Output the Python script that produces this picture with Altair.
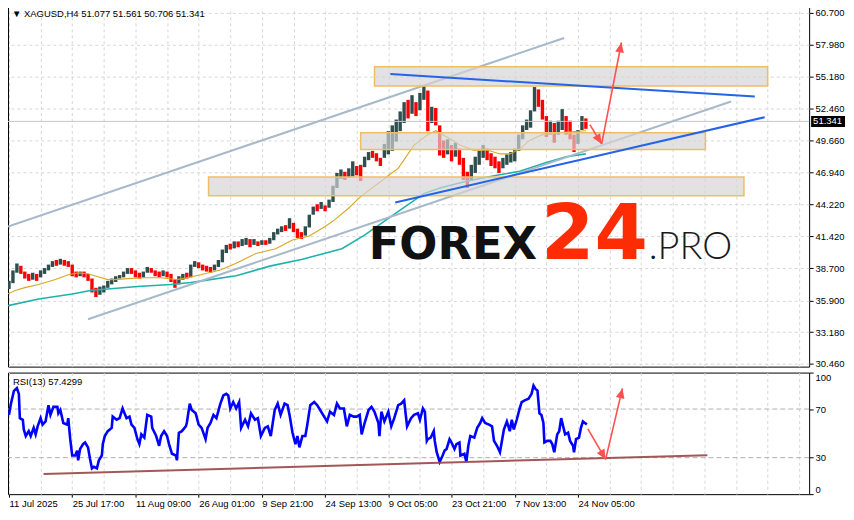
import json
import altair as alt
import pandas as pd

# ---------------- data ----------------
symbol = "XAGUSD,H4"
last_ohlc = ["51.077", "51.561", "50.706", "51.341"]
last_price = 51.341
rsi_name = "RSI(13)"
rsi_last = "57.4299"

# H4 bar position on the time axis (source chart: one pixel per bar)
candle_t = list(range(3, 588, 4))
price_low = [
    36.9, 37.4, 38.3, 38.2, 37.8, 37.6, 37.7, 37.6, 37.9, 38.2,
    38.5, 38.8, 38.9, 39.0, 38.9, 38.8, 38.0, 37.9, 38.0, 37.9,
    37.6, 36.6, 36.2, 36.4, 36.6, 37.0, 37.3, 37.5, 37.8, 37.9,
    38.2, 38.2, 37.9, 37.8, 37.9, 38.3, 38.3, 38.0, 37.9, 38.0,
    37.9, 37.5, 37.0, 37.3, 37.7, 37.8, 37.9, 38.8, 38.7, 38.5,
    38.4, 38.3, 38.5, 38.8, 39.2, 40.0, 40.3, 40.4, 40.5, 40.6,
    40.7, 40.5, 40.7, 40.6, 40.7, 40.7, 40.8, 41.1, 41.6, 41.8,
    41.9, 42.1, 41.8, 41.3, 41.2, 41.5, 42.2, 43.3, 43.6, 43.8,
    43.6, 43.9, 44.4, 45.6, 46.4, 46.3, 46.5, 46.6, 46.7, 46.2,
    47.4, 48.0, 48.2, 47.9, 47.5, 48.2, 48.5, 48.8, 49.6, 50.5,
    51.2, 51.6, 52.0, 51.8, 52.3, 53.2, 50.5, 51.2, 51.0, 48.4,
    48.2, 48.5, 47.9, 48.3, 47.6, 46.3, 45.6, 46.2, 46.9, 47.6,
    48.2, 48.0, 47.5, 47.3, 46.9, 47.3, 47.6, 47.8, 47.9, 48.8,
    49.8, 50.6, 50.8, 52.2, 52.6, 51.5, 50.0, 50.2, 49.5, 50.2,
    50.6, 50.2, 49.8, 48.7, 49.4, 50.6, 50.7,
]
price_high = [
    37.6, 38.5, 39.1, 38.9, 38.4, 38.2, 38.3, 38.2, 38.5, 38.7,
    39.0, 39.3, 39.4, 39.5, 39.4, 39.3, 39.0, 38.4, 38.4, 38.4,
    38.2, 37.8, 37.0, 37.1, 37.2, 37.6, 37.8, 38.0, 38.1, 38.4,
    38.7, 38.7, 38.5, 38.3, 38.4, 38.8, 38.7, 38.5, 38.4, 38.5,
    38.4, 38.2, 37.7, 38.0, 38.2, 38.3, 39.0, 39.3, 39.2, 39.0,
    38.9, 38.8, 39.0, 39.4, 40.3, 40.7, 40.8, 41.0, 41.0, 41.2,
    41.3, 41.2, 41.2, 41.0, 41.1, 41.1, 41.3, 41.8, 42.1, 42.3,
    42.4, 43.0, 42.6, 42.1, 41.8, 42.3, 43.3, 44.0, 44.2, 44.4,
    44.1, 44.6, 45.8, 46.9, 47.2, 47.0, 47.3, 47.9, 47.5, 47.6,
    48.3, 48.7, 48.8, 48.6, 48.2, 49.4, 50.5, 51.0, 51.5, 52.2,
    53.0, 53.2, 53.6, 53.0, 53.8, 54.4, 54.0, 52.6, 52.5, 51.0,
    49.7, 49.8, 49.3, 49.5, 49.0, 48.2, 47.0, 47.6, 48.3, 48.8,
    49.3, 49.0, 48.6, 48.3, 47.9, 48.2, 48.5, 48.7, 49.0, 50.2,
    51.0, 51.5, 52.3, 54.3, 54.1, 53.2, 51.8, 51.4, 51.2, 51.4,
    52.4, 51.8, 51.4, 50.2, 50.6, 51.8, 51.6,
]
candle_dir = list(
    "uuuddduduu" "uududddd" "ud" "ddduuuuuuu" "uddduudddu" "ddduuduudd"
    "dduuuududu" "udududuuuu" "duddduuudu" "duuuuduudd" "uuddduuuuu"
    "ududuududd" "dududdduuu" "udddduuuuu" "uuuudddudu" "uddduud"
)

ma_fast_t = [2, 10, 20, 33, 50, 63, 73, 83, 93, 103, 110, 123, 140, 157, 173, 183, 197,
             217, 233, 253, 273, 290, 307, 323, 333, 347, 357, 367, 380, 390, 397, 413,
             427, 435, 447, 460, 473, 487, 500, 510, 520, 530, 543, 560, 573, 587]
ma_fast_v = [36.48, 36.79, 37.04, 37.29, 37.71, 38.12, 38.29, 38.21, 37.96, 37.71, 37.71,
             37.79, 37.87, 37.87, 37.71, 37.87, 38.12, 38.54, 39.12, 39.96, 40.37, 41.12,
             41.46, 42.29, 42.88, 43.88, 44.71, 45.37, 46.20, 46.87, 47.29, 49.29, 50.20,
             50.54, 49.96, 49.29, 48.87, 48.87, 48.54, 48.54, 48.95, 49.70, 50.20, 50.37,
             50.45, 50.54]
ma_slow_t = [2, 33, 67, 87, 100, 133, 167, 187, 200, 233, 267, 300, 340, 363, 395, 423,
             440, 467, 497, 520, 547, 567, 587]
ma_slow_v = [35.46, 36.04, 36.46, 36.79, 36.88, 37.12, 37.29, 37.46, 37.62, 38.04, 38.87,
             39.46, 40.37, 41.54, 43.46, 45.12, 45.62, 46.20, 46.70, 47.04, 47.79, 48.29,
             48.54]

rsi_t = [3, 5, 8, 11, 13, 14, 17, 18, 20, 23, 25, 28, 30, 32, 35, 37, 40, 43, 45, 48, 52,
         53, 55, 58, 62, 63, 65, 67, 70, 72, 73, 75, 78, 80, 83, 85, 87, 89, 92, 94, 97,
         98, 100, 103, 107, 108, 112, 115, 118, 122, 125, 127, 130, 133, 135, 137, 140,
         143, 147, 148, 152, 155, 157, 160, 163, 165, 168, 172, 173, 175, 178, 182, 183,
         186, 188, 192, 195, 198, 202, 204, 207, 210, 213, 217, 220, 223, 225, 227, 230,
         233, 236, 238, 242, 245, 248, 252, 255, 258, 262, 265, 268, 272, 275, 278, 282,
         285, 287, 290, 293, 295, 297, 300, 303, 305, 308, 312, 315, 318, 322, 325, 328,
         332, 335, 338, 342, 345, 348, 352, 355, 358, 360, 363, 367, 370, 373, 377, 378,
         380, 383, 387, 390, 393, 397, 400, 403, 406, 410, 413, 417, 419, 422, 424, 426,
         427, 430, 433, 434, 436, 439, 442, 444, 446, 449, 451, 454, 456, 459, 460, 464,
         466, 468, 470, 474, 477, 480, 482, 485, 489, 492, 494, 497, 500, 502, 504, 507,
         510, 512, 514, 517, 520, 522, 525, 529, 532, 534, 536, 538, 540, 542, 544, 545,
         548, 551, 553, 555, 558, 560, 562, 564, 566, 569, 571, 574, 575, 577, 580, 582,
         584, 586, 588]
rsi_v = [65.2, 74.5, 85.0, 87.3, 82.5, 62.5, 61.2, 53.2, 47.8, 51.8, 47.8, 54.5, 49.2,
         55.8, 62.5, 57.2, 59.8, 73.2, 65.2, 71.8, 71.8, 66.5, 69.2, 58.5, 57.2, 62.5,
         45.2, 31.8, 31.8, 35.8, 27.8, 37.2, 41.2, 42.5, 38.5, 29.2, 21.2, 22.5, 21.2,
         27.8, 31.8, 41.2, 47.8, 51.8, 54.5, 63.8, 61.2, 62.5, 70.5, 62.5, 63.8, 57.2,
         54.5, 45.2, 41.2, 49.2, 46.5, 65.2, 63.8, 54.5, 47.8, 39.8, 47.8, 51.8, 47.8,
         41.2, 33.2, 31.8, 27.8, 50.5, 51.8, 55.8, 58.5, 74.5, 69.2, 66.5, 57.2, 54.5,
         45.2, 54.5, 58.5, 65.2, 62.5, 74.5, 81.2, 82.5, 81.2, 70.5, 75.8, 70.5, 75.8,
         54.5, 61.2, 55.8, 66.5, 61.2, 62.5, 47.8, 54.5, 55.8, 47.8, 69.2, 74.5, 65.2,
         74.5, 73.2, 65.2, 50.5, 41.2, 47.8, 38.5, 47.8, 47.8, 57.2, 73.2, 75.8, 73.2,
         69.2, 63.8, 59.8, 67.8, 65.2, 74.5, 70.5, 70.5, 55.8, 65.2, 63.8, 63.8, 65.2,
         49.2, 58.5, 69.2, 71.8, 67.8, 58.5, 47.8, 67.8, 59.8, 67.8, 55.8, 62.5, 73.2,
         74.5, 77.2, 55.8, 62.5, 65.2, 66.5, 61.2, 70.5, 67.8, 43.8,
         45.2, 46.5, 51.8, 43.8, 34.5, 26.5, 31.8, 35.8, 37.2, 45.2, 42.5, 37.2, 41.2,
         42.5, 31.8, 33.2, 26.5, 39.8, 47.8, 46.5, 54.5, 58.5, 62.5, 58.5, 57.2, 55.8,
         43.8, 39.8, 34.5, 43.8, 53.2, 59.8, 51.8, 61.2, 53.2, 61.2, 70.5, 75.8, 77.2,
         78.5, 82.5, 89.2, 86.5, 85.2, 66.5, 65.2, 58.5, 42.5, 43.8, 43.8, 41.2, 34.5,
         49.2, 51.8, 62.5, 55.8, 49.2, 50.5, 43.8, 39.8, 34.5, 45.2, 46.5, 54.5, 59.8,
         58.5, 57.4]

price_ticks = [60.700, 57.980, 55.180, 52.460, 49.660, 46.940, 44.220, 41.420, 38.700,
               35.900, 33.180, 30.460]
rsi_ticks = [0, 30, 70, 100]
rsi_levels = [30, 70]
time_label_t = [3, 67, 131, 195, 259, 323, 387, 451, 515, 579]
time_labels = ["11 Jul 2025", "25 Jul 17:00", "11 Aug 09:00", "26 Aug 01:00",
               "9 Sep 21:00", "24 Sep 13:00", "9 Oct 05:00", "23 Oct 21:00",
               "7 Nov 13:00", "24 Nov 05:00"]
grid_t = list(range(3, 804, 32))

# support / resistance zones
zone_t1 = [373, 359, 205]
zone_t2 = [771, 708, 747]
zone_top = [56.06, 50.37, 46.54]
zone_bot = [54.39, 48.93, 44.93]

# channel (gray) and trend (blue) lines: start / end
chan_t1 = [2, 83]
chan_p1 = [42.29, 34.29]
chan_t2 = [565, 734]
chan_p2 = [58.53, 53.06]
trend_t1 = [389, 394]
trend_p1 = [55.43, 44.35]
trend_t2 = [758, 768]
trend_p2 = [53.48, 51.70]

# forecast arrows (price)
arr_t1 = [591, 603]
arr_p1 = [51.06, 49.40]
arr_t2 = [603, 623]
arr_p2 = [49.40, 58.14]
# forecast arrows (RSI)
rarr_t1 = [589, 607]
rarr_v1 = [53.7, 28.6]
rarr_t2 = [607, 624]
rarr_v2 = [28.6, 87.0]
# RSI support line
rsi_line_t = [38, 710]
rsi_line_v = [16.6, 32.1]

# ---------------- styling ----------------
W, H1, H2 = 804, 363, 122
FONT = "Liberation Sans"
FS = 9.5
GRID = "#d6d6d6"
UP, DOWN = "#2f4f4f", "#ff0000"
ARROW = "#ff5050"
HEAD = "M0,0L-0.55,1.25L0.55,1.25Z"

xscale = alt.Scale(domain=[2, 813], nice=False, zero=False)
yscale = alt.Scale(domain=[30.21, 61.38], nice=False, zero=False)
rscale = alt.Scale(domain=[0, 100], nice=False, zero=False)

grid_axis = alt.Axis(values=grid_t, labels=False, ticks=False, domain=False, grid=True,
                     gridColor=GRID, gridDash=[3, 3], title=None)
price_axis = alt.Axis(orient="right", values=price_ticks, format=".3f", title=None,
                      tickSize=4, labelPadding=2, grid=True, gridColor=GRID,
                      gridDash=[3, 3], domain=False)
label_expr = (f"indexof({json.dumps(time_label_t)}, datum.value) >= 0 ? "
              f"{json.dumps(time_labels)}[indexof({json.dumps(time_label_t)}, datum.value)] : ''")
time_axis = alt.Axis(values=grid_t, labelExpr=label_expr, labelAlign="left", labelFlush=False,
                     labelOverlap=False, tickSize=3, labelPadding=1, grid=True, gridColor=GRID,
                     gridDash=[3, 3], domain=False, title=None,
                     tickOpacity={"condition": {"test": f"indexof({json.dumps(time_label_t)}, datum.value) >= 0",
                                                "value": 1}, "value": 0})
rsi_axis = alt.Axis(orient="right", values=rsi_ticks, title=None, tickSize=4, labelPadding=2,
                    grid=False, domain=False, labelFlush=True)


def X(f):
    return alt.X(f, type="quantitative", scale=xscale, axis=grid_axis)


def Y(f):
    return alt.Y(f, type="quantitative", scale=yscale, axis=price_axis)


def XT(f):
    return alt.X(f, type="quantitative", scale=xscale, axis=time_axis)


def R(f):
    return alt.Y(f, type="quantitative", scale=rscale, axis=rsi_axis)


cdf = pd.DataFrame({"t": candle_t, "low": price_low, "high": price_high, "dir": candle_dir})
fast_df = pd.DataFrame({"t": ma_fast_t, "v": ma_fast_v})
slow_df = pd.DataFrame({"t": ma_slow_t, "v": ma_slow_v})
zone_df = pd.DataFrame({"t1": zone_t1, "t2": zone_t2, "top": zone_top, "bot": zone_bot})
chan_df = pd.DataFrame({"t1": chan_t1, "p1": chan_p1, "t2": chan_t2, "p2": chan_p2})
trend_df = pd.DataFrame({"t1": trend_t1, "p1": trend_p1, "t2": trend_t2, "p2": trend_p2})
arr_df = pd.DataFrame({"t1": arr_t1, "p1": arr_p1, "t2": arr_t2, "p2": arr_p2})
rarr_df = pd.DataFrame({"t1": rarr_t1, "p1": rarr_v1, "t2": rarr_t2, "p2": rarr_v2})
rline_df = pd.DataFrame({"t1": [rsi_line_t[0]], "p1": [rsi_line_v[0]],
                         "t2": [rsi_line_t[1]], "p2": [rsi_line_v[1]]})
rsi_df = pd.DataFrame({"t": rsi_t, "v": rsi_v})
lvl_df = pd.DataFrame({"v": rsi_levels})
last_df = pd.DataFrame({"p": [last_price], "txt": [f"{last_price:.3f}"]})
one = pd.DataFrame({"k": [0]})

candles = alt.Chart(cdf).mark_rule(strokeWidth=3.4).encode(
    x=X("t"), y=Y("low"), y2="high",
    color=alt.Color("dir:N", scale=alt.Scale(domain=["u", "d"], range=[UP, DOWN]), legend=None),
)
price_line = alt.Chart(last_df).mark_rule(color="#c8c8c8", strokeWidth=1).encode(y=Y("p"))
ma_slow = alt.Chart(slow_df).mark_line(color="#20b2aa", strokeWidth=1.6).encode(x=X("t"), y=Y("v"))
ma_fast = alt.Chart(fast_df).mark_line(color="#daa520", strokeWidth=1.1).encode(x=X("t"), y=Y("v"))
chan = alt.Chart(chan_df).mark_rule(color="#a7b9ca", strokeWidth=2).encode(
    x=X("t1"), x2="t2", y=Y("p1"), y2="p2")
zones = alt.Chart(zone_df).mark_rect(fill="#d4d4d4", fillOpacity=0.68, stroke="#f1bd62",
                                     strokeWidth=1.5).encode(
    x=X("t1"), x2="t2", y=Y("top"), y2="bot")
trend = alt.Chart(trend_df).mark_rule(color="#2563e8", strokeWidth=2).encode(
    x=X("t1"), x2="t2", y=Y("p1"), y2="p2")
arrows = alt.Chart(arr_df).mark_rule(color=ARROW, strokeWidth=1.6).encode(
    x=X("t1"), x2="t2", y=Y("p1"), y2="p2")
head1 = alt.Chart(pd.DataFrame({"t": [arr_t2[0]], "p": [arr_p2[0]]})).mark_point(
    shape=HEAD, size=256, filled=True, opacity=1, color=ARROW, strokeWidth=0, angle=148
).encode(x=X("t"), y=Y("p"))
head2 = alt.Chart(pd.DataFrame({"t": [arr_t2[1]], "p": [arr_p2[1]]})).mark_point(
    shape=HEAD, size=256, filled=True, opacity=1, color=ARROW, strokeWidth=0, angle=11
).encode(x=X("t"), y=Y("p"))

logo1 = alt.Chart(one).mark_text(text="FOREX", font="DejaVu Sans", fontWeight="bold",
                                 fontSize=45, color="#111111", align="left",
                                 baseline="alphabetic").encode(x=alt.value(362), y=alt.value(255))
logo2 = alt.Chart(one).mark_text(text="24", font="DejaVu Sans", fontWeight="bold",
                                 fontSize=77, color="#fe2c04", align="left",
                                 baseline="alphabetic").encode(x=alt.value(535), y=alt.value(255))
logo3 = alt.Chart(one).mark_text(text=".PRO", font="Lato", fontWeight=300,
                                 fontSize=38, color="#1a1a1a", align="left",
                                 baseline="alphabetic").encode(x=alt.value(643), y=alt.value(255))
header = alt.Chart(one).mark_text(
    text="\u25bc " + symbol + "  " + " ".join(last_ohlc), font=FONT, fontSize=FS,
    color="black", align="left", baseline="middle").encode(x=alt.value(4), y=alt.value(9))
tag_box = alt.Chart(last_df).mark_tick(orient="horizontal", size=34, thickness=11,
                                       color="black", opacity=1).encode(
    x=alt.value(W + 19), y=Y("p"))
tag_txt = alt.Chart(last_df).mark_text(font=FONT, fontSize=FS, color="white", align="left",
                                       baseline="middle").encode(
    x=alt.value(W + 4), y=Y("p"), text="txt:N")

main = alt.layer(candles, price_line, ma_slow, ma_fast, chan, zones, trend, arrows,
                 head1, head2, logo1, logo2, logo3, header, tag_box, tag_txt
                 ).properties(width=W, height=H1)

# ---------------- RSI panel ----------------
rsi_line = alt.Chart(rsi_df).mark_line(color="#0000ff", strokeWidth=2.6).encode(
    x=XT("t"), y=R("v"))
rsi_lvls = alt.Chart(lvl_df).mark_rule(color="#b0b0b0", strokeDash=[5, 3], strokeWidth=1).encode(
    y=R("v"))
rsi_support = alt.Chart(rline_df).mark_rule(color="#9a4545", strokeWidth=2, opacity=0.9).encode(
    x=XT("t1"), x2="t2", y=R("p1"), y2="p2")
rsi_arrows = alt.Chart(rarr_df).mark_rule(color=ARROW, strokeWidth=1.6).encode(
    x=XT("t1"), x2="t2", y=R("p1"), y2="p2")
rhead1 = alt.Chart(pd.DataFrame({"t": [rarr_t2[0]], "p": [rarr_v2[0]]})).mark_point(
    shape=HEAD, size=256, filled=True, opacity=1, color=ARROW, strokeWidth=0, angle=150
).encode(x=XT("t"), y=R("p"))
rhead2 = alt.Chart(pd.DataFrame({"t": [rarr_t2[1]], "p": [rarr_v2[1]]})).mark_point(
    shape=HEAD, size=256, filled=True, opacity=1, color=ARROW, strokeWidth=0, angle=13
).encode(x=XT("t"), y=R("p"))
rsi_label = alt.Chart(one).mark_text(text=f"{rsi_name} {rsi_last}", font=FONT, fontSize=FS,
                                     color="black", align="left", baseline="middle").encode(
    x=alt.value(5), y=alt.value(9))

rsi = alt.layer(rsi_lvls, rsi_line, rsi_support, rsi_arrows, rhead1, rhead2, rsi_label
                ).properties(width=W, height=H2)

chart = alt.vconcat(main, rsi, spacing=2).properties(
    padding={"left": -5, "top": -5, "right": 0, "bottom": 0}, background="white"
).configure_view(stroke="black", strokeWidth=1).configure_axis(
    labelFont=FONT, labelFontSize=FS, labelColor="black", tickColor="black"
)

chart.save("out.html", embed_options={"renderer": "svg", "actions": False})
